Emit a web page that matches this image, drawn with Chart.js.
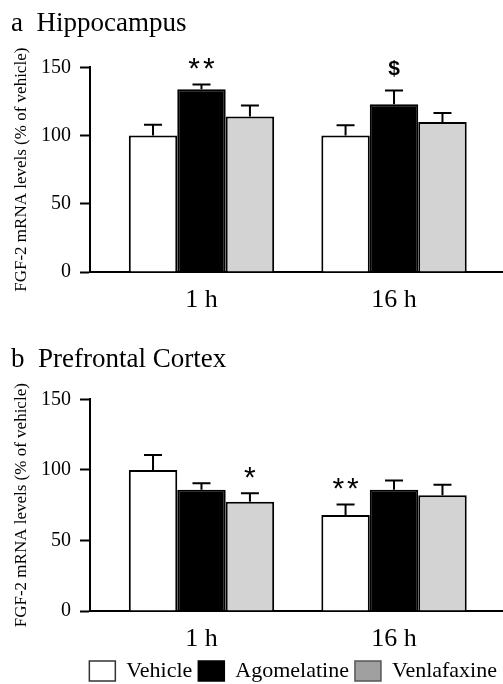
<!DOCTYPE html>
<html><head><meta charset="utf-8">
<script src="https://cdn.jsdelivr.net/npm/chart.js@4"></script>
<style>
html,body{margin:0;padding:0;background:#fff;overflow:hidden;width:503px;height:684px}
#a{position:absolute;left:0;top:0;width:503px;height:320px}
#b{position:absolute;left:0;top:320px;width:503px;height:372px}
</style></head><body>
<div id="a"><canvas id="ca"></canvas></div>
<div id="b"><canvas id="cb"></canvas></div>
<script>
// ---- data ----
const categories = ['1 h', '16 h'];
const seriesNames = ['Vehicle', 'Agomelatine', 'Venlafaxine'];
const yTickStep = 50;
const yMax = 150;
// a: Hippocampus
const hippoVehicle = [100, 100];
const hippoAgomelatine = [134, 123];
const hippoVenlafaxine = [114, 110];
const hippoVehicleErr = [8, 7.5];
const hippoAgomelatineErr = [3.5, 10];
const hippoVenlafaxineErr = [8, 6.5];
const hippoMarks = [['', ''], ['**', '$'], ['', '']];
// b: Prefrontal Cortex
const pfcVehicle = [100, 68];
const pfcAgomelatine = [86, 86];
const pfcVenlafaxine = [77.5, 82];
const pfcVehicleErr = [10.5, 7.5];
const pfcAgomelatineErr = [4.5, 6.5];
const pfcVenlafaxineErr = [6, 7.5];
const pfcMarks = [['', '**'], ['', ''], ['*', '']];

// ---- styles ----
const barFill = ['#ffffff', '#000000', '#d3d3d3'];
const legendFill = ['#ffffff', '#000000', '#a0a0a0'];
const legendStroke = ['#333333', '#000000', '#555555'];
const SERIF = "'Liberation Serif', 'Times New Roman', serif";
const SANS = "'Liberation Sans', Arial, sans-serif";
Chart.defaults.font.family = SERIF;
Chart.defaults.color = '#000';

function toPoints(arr) { return arr.map((v, i) => ({ x: i, y: v })); }

function makeDatasets(values, errors, marks) {
  return values.map((vals, i) => ({
    label: seriesNames[i],
    data: toPoints(vals),
    errors: errors[i],
    marks: marks[i],
    backgroundColor: barFill[i],
    borderColor: '#000',
    borderWidth: 2,
    categoryPercentage: 0.755,
    barPercentage: 1
  }));
}

const errorBarPlugin = {
  id: 'errorBars',
  afterDatasetsDraw(chart) {
    const ctx = chart.ctx;
    const ys = chart.scales.y;
    ctx.save();
    chart.data.datasets.forEach((ds, i) => {
      const meta = chart.getDatasetMeta(i);
      meta.data.forEach((bar, j) => {
        const v = ds.data[j].y;
        const e = ds.errors[j];
        const top = ys.getPixelForValue(v + e);
        ctx.strokeStyle = '#000';
        ctx.lineWidth = 2;
        ctx.beginPath();
        ctx.moveTo(bar.x, bar.y);
        ctx.lineTo(bar.x, top);
        ctx.moveTo(bar.x - 9, top);
        ctx.lineTo(bar.x + 9, top);
        ctx.stroke();
        const m = ds.marks[j];
        if (m) {
          ctx.fillStyle = '#000';
          ctx.textAlign = 'center';
          ctx.textBaseline = 'alphabetic';
          if (m.indexOf('*') >= 0) {
            ctx.font = '30px ' + SANS;
            ctx.letterSpacing = '3px';
            ctx.fillText(m, bar.x + 1.5, top - 6);
          } else {
            ctx.font = 'bold 21px ' + SANS;
            ctx.letterSpacing = '0px';
            ctx.fillText(m, bar.x, top - 16);
          }
        }
      });
    });
    ctx.restore();
  }
};

function makeConfig(opts) {
  return {
    type: 'bar',
    data: { datasets: makeDatasets(opts.values, opts.errors, opts.marks) },
    plugins: [errorBarPlugin],
    options: {
      responsive: true,
      maintainAspectRatio: false,
      animation: false,
      layout: { padding: { left: 11, right: 0, top: 0, bottom: 0 } },
      plugins: {
        tooltip: { enabled: false },
        title: {
          display: true,
          text: opts.title,
          align: 'start',
          color: '#000',
          font: { size: 27, weight: 'normal', family: SERIF },
          padding: opts.titlePad
        },
        legend: {
          display: opts.legend,
          position: 'bottom',
          align: 'end',
          labels: {
            boxWidth: 26,
            boxHeight: 20,
            padding: 6,
            color: '#000',
            font: { size: 22, family: SERIF },
            generateLabels(chart) {
              return chart.data.datasets.map((ds, i) => ({
                text: ds.label,
                fillStyle: legendFill[i],
                strokeStyle: legendStroke[i],
                lineWidth: 1.5,
                hidden: false,
                datasetIndex: i,
                fontColor: '#000'
              }));
            }
          }
        }
      },
      scales: {
        x: {
          type: 'linear',
          offset: false,
          min: -0.579,
          max: 1.566,
          grid: { display: false },
          border: { display: true, color: '#000', width: 2 },
          ticks: {
            padding: 5,
            color: '#000',
            font: { size: 26, family: SERIF },
            callback: (v) => categories[v] !== undefined ? categories[v] : ''
          },
          afterBuildTicks(axis) { axis.ticks = categories.map((c, i) => ({ value: i })); },
          afterFit(axis) { axis.height = opts.xHeight; }
        },
        y: {
          min: 0,
          max: yMax,
          grid: { display: true, drawOnChartArea: false, drawTicks: true, tickLength: 10, tickWidth: 2, tickColor: '#000', color: '#000' },
          border: { display: true, color: '#000', width: 2 },
          ticks: { stepSize: yTickStep, padding: 9, color: '#000', font: { size: 20, family: SERIF } },
          title: {
            display: true,
            text: 'FGF-2 mRNA levels (% of vehicle)',
            color: '#000',
            font: { size: 17, family: SERIF },
            padding: 0
          },
          afterFit(axis) { axis.width = 79; }
        }
      }
    }
  };
}

new Chart(document.getElementById('ca'), makeConfig({
  title: 'a  Hippocampus',
  titlePad: { top: 8, bottom: 27 },
  xHeight: 48,
  legend: false,
  values: [hippoVehicle, hippoAgomelatine, hippoVenlafaxine],
  errors: [hippoVehicleErr, hippoAgomelatineErr, hippoVenlafaxineErr],
  marks: hippoMarks
}));

new Chart(document.getElementById('cb'), makeConfig({
  title: 'b  Prefrontal Cortex',
  titlePad: { top: 24, bottom: 23 },
  xHeight: 43,
  legend: true,
  values: [pfcVehicle, pfcAgomelatine, pfcVenlafaxine],
  errors: [pfcVehicleErr, pfcAgomelatineErr, pfcVenlafaxineErr],
  marks: pfcMarks
}));
</script>
</body></html>
